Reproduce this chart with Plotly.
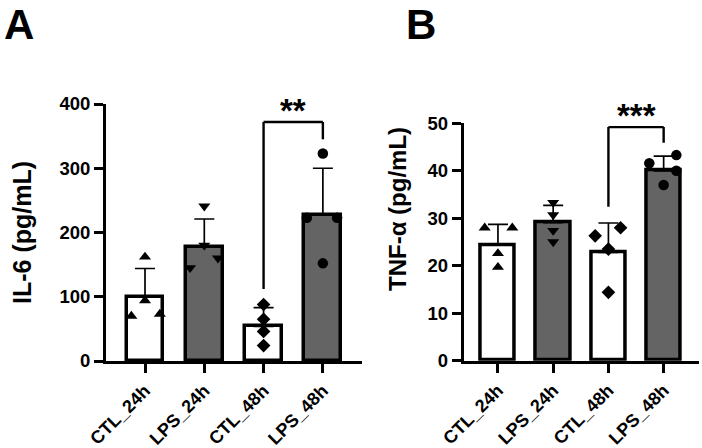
import plotly.graph_objects as go

# ---------------- data ----------------
categories = ["CTL_24h", "LPS_24h", "CTL_48h", "LPS_48h"]

il6_mean = [100, 178, 54, 228]
il6_sd = [44, 43, 29, 72]
il6_points = [
    [70, 94, 162, 73],
    [241, 180, 145, 160],
    [88, 65, 46, 24],
    [323, 223, 223, 152],
]

tnf_mean = [24.4, 29.1, 22.8, 40.0]
tnf_sd = [4.3, 3.6, 6.2, 3.1]
tnf_points = [
    [28.0, 28.0, 22.6, 19.7],
    [33.3, 30.7, 27.4, 25.0],
    [26.3, 28.0, 23.5, 14.4],
    [41.6, 43.3, 40.0, 37.0],
]

il6_ticks = [0, 100, 200, 300, 400]
tnf_ticks = [0, 10, 20, 30, 40, 50]

# significance brackets: (left group, right group, bar height, left foot, right foot, label)
il6_bracket = (2, 3, 372, 112, 345, "**")
tnf_bracket = (2, 3, 49.2, 32.4, 45.9, "***")

# ---------------- style ----------------
jitter_A = [[-0.23, 0, 0, 0.25], [0, 0, -0.24, 0.23], [0, 0, 0, 0], [0, -0.27, 0.24, 0]]
jitter_B = [[-0.24, 0.26, 0, 0], [0, 0, 0, 0], [-0.24, 0.22, 0, 0], [-0.26, 0.23, 0.23, 0]]
symbols = ["triangle-up", "triangle-down", "diamond", "circle"]
bar_fill = ["white", "#646464", "white", "#646464"]
FONT = "Liberation Sans, Arial, sans-serif"
W, H = 702, 448

fig = go.Figure()


def add_panel(means, sds, points, jit, xa, ya):
    xs = list(range(len(categories)))
    fig.add_trace(go.Bar(
        x=xs, y=means, width=0.62, xaxis=xa, yaxis=ya,
        marker=dict(color=bar_fill, line=dict(color="black", width=3.5)),
        error_y=dict(type="data", symmetric=False, array=sds,
                     arrayminus=[0] * len(sds), color="black",
                     thickness=1.7, width=10),
        showlegend=False, hoverinfo="skip"))
    for i, pts in enumerate(points):
        fig.add_trace(go.Scatter(
            x=[i + j for j in jit[i]], y=pts, mode="markers",
            xaxis=xa, yaxis=ya,
            marker=dict(symbol=symbols[i], size=10.5, color="black",
                        line=dict(width=0)),
            showlegend=False, hoverinfo="skip"))


add_panel(il6_mean, il6_sd, il6_points, jitter_A, "x", "y")
add_panel(tnf_mean, tnf_sd, tnf_points, jitter_B, "x2", "y2")


def bracket(b, xref, yref):
    l, r, top, lf, rf, label = b
    for (x0, y0, x1, y1) in [(l, lf, l, top), (l, top, r, top), (r, top, r, rf)]:
        fig.add_shape(type="line", x0=x0, y0=y0, x1=x1, y1=y1,
                      xref=xref, yref=yref,
                      line=dict(color="black", width=2.4))
    fig.add_annotation(x=(l + r) / 2, y=top, xref=xref, yref=yref,
                       text="<b>" + label + "</b>", showarrow=False,
                       xanchor="center", yanchor="bottom", yshift=-9,
                       font=dict(family=FONT, size=33, color="black"))


bracket(il6_bracket, "x", "y")
bracket(tnf_bracket, "x2", "y2")

axis_common = dict(showline=True, linecolor="black", linewidth=3,
                   ticks="outside", ticklen=9, tickwidth=2.8,
                   tickcolor="black", showgrid=False, zeroline=False,
                   automargin=False)
xtick_font = dict(family=FONT, size=18, color="black", weight="bold")
ytick_font = dict(family=FONT, size=18.5, color="black", weight="bold")

fig.update_layout(
    width=W, height=H, margin=dict(l=0, r=0, t=0, b=0, pad=0),
    autosize=False,
    paper_bgcolor="white", plot_bgcolor="white", bargap=0,
    xaxis=dict(domain=[106 / W, 362 / W], range=[-0.658, 3.66],
               tickvals=list(range(4)), ticktext=categories,
               tickangle=-45, tickfont=xtick_font, anchor="y", **axis_common),
    yaxis=dict(domain=[(H - 361) / H, (H - 104) / H], range=[0, 400],
               tickvals=il6_ticks, tickfont=ytick_font, anchor="x",
               **axis_common),
    xaxis2=dict(domain=[463.7 / W, 699 / W], range=[-0.62, 3.64],
                tickvals=list(range(4)), ticktext=categories,
                tickangle=-45, tickfont=xtick_font, anchor="y2", **axis_common),
    yaxis2=dict(domain=[(H - 360.7) / H, (H - 123.3) / H], range=[0, 50],
                tickvals=tnf_ticks, tickfont=ytick_font, anchor="x2",
                **axis_common),
)

# axis titles and panel letters
ann = dict(xref="paper", yref="paper", showarrow=False,
           xanchor="center", yanchor="middle")
fig.add_annotation(x=22 / W, y=(H - 233) / H, text="<b>IL-6 (pg/mL)</b>",
                   textangle=-90, font=dict(family=FONT, size=25, color="black"), **ann)
fig.add_annotation(x=398 / W, y=(H - 209) / H, text="<b>TNF-α (pg/mL)</b>",
                   textangle=-90, font=dict(family=FONT, size=24, color="black"), **ann)
fig.add_annotation(x=19 / W, y=(H - 25) / H, text="<b>A</b>",
                   font=dict(family=FONT, size=42, color="black"), **ann)
fig.add_annotation(x=421 / W, y=(H - 25) / H, text="<b>B</b>",
                   font=dict(family=FONT, size=42, color="black"), **ann)

fig.write_html("out.html")
